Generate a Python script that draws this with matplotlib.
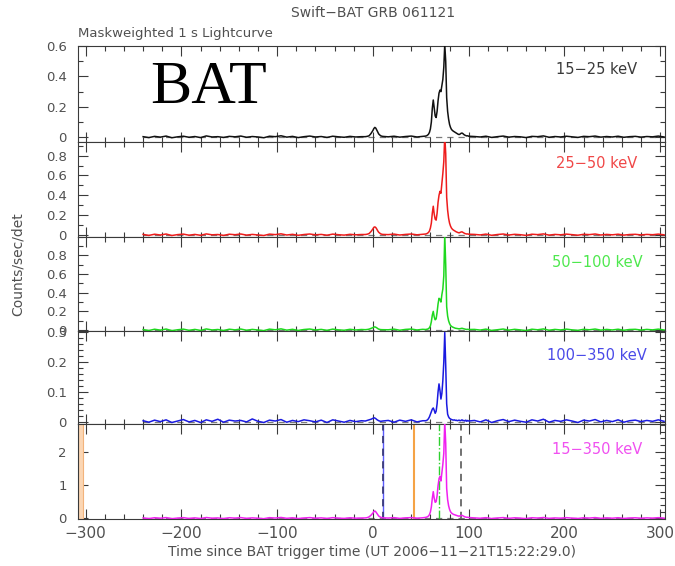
import numpy as np
import matplotlib
matplotlib.use("Agg")
import matplotlib.pyplot as plt
from matplotlib.ticker import MultipleLocator, FixedLocator

# ---- time grid, seconds since BAT trigger ----
t_pre = np.arange(-240, -11, 6)
t_precursor = np.array([-8, -6, -4, -2, 0, 1, 2, 3, 4, 5, 6, 8, 10])
t_gap = np.array([16, 22, 28, 34, 40, 46, 52])
t_burst = np.arange(55, 101)
t_tail = np.arange(106, 305, 6)
time = np.concatenate([t_pre, t_precursor, t_gap, t_burst, t_tail])

# ---- mask-weighted rates (counts/sec/det) per energy band ----
rate_15_25 = [
    0.004, -0.002, 0.006, 0.001, 0.008, -0.003, 0.003, 0.007, 0.000, 0.005,
    -0.002, 0.009, 0.002, 0.004, -0.001, 0.006, 0.003, 0.008, 0.000, 0.005,
    0.002, -0.003, 0.007, 0.004, 0.010, 0.001, 0.006, -0.002, 0.004, 0.008,
    0.002, 0.005, -0.001, 0.007, 0.003, 0.000, 0.006, 0.002, 0.004,
    0.004, 0.006, 0.010, 0.025, 0.045, 0.058, 0.065, 0.060, 0.048, 0.035, 0.022, 0.010, 0.006,
    0.003, 0.007, 0.001, 0.005, 0.008, 0.002, 0.006,
    0.008, 0.010, 0.014, 0.020, 0.032, 0.055, 0.10, 0.19, 0.245, 0.19,
    0.14, 0.13, 0.17, 0.24, 0.29, 0.31, 0.30, 0.34, 0.38, 0.46,
    0.61, 0.50, 0.26, 0.17, 0.12, 0.085, 0.065, 0.052, 0.045, 0.040,
    0.036, 0.032, 0.028, 0.024, 0.020, 0.018, 0.021, 0.026, 0.028, 0.024,
    0.018, 0.014, 0.011, 0.009, 0.010, 0.007,
    0.005, 0.002, 0.007, -0.001, 0.004, 0.008, 0.001, 0.005, 0.003, -0.002,
    0.006, 0.004, 0.009, 0.000, 0.005, 0.002, 0.007, 0.003, -0.001, 0.006,
    0.004, 0.008, 0.001, 0.005, 0.002, 0.007, 0.000, 0.004, 0.006, 0.001,
    0.005, 0.003, 0.008, 0.002,
]
rate_25_50 = [
    0.006, -0.004, 0.008, 0.000, 0.010, -0.005, 0.004, 0.009, -0.002, 0.006,
    -0.003, 0.011, 0.002, 0.005, -0.004, 0.008, 0.003, 0.010, -0.001, 0.006,
    0.001, -0.005, 0.009, 0.004, 0.012, 0.000, 0.007, -0.003, 0.005, 0.010,
    0.002, 0.006, -0.002, 0.009, 0.003, -0.001, 0.007, 0.002, 0.005,
    0.005, 0.008, 0.015, 0.035, 0.062, 0.078, 0.082, 0.075, 0.060, 0.042, 0.028, 0.012, 0.006,
    0.004, 0.009, 0.000, 0.006, 0.010, 0.002, 0.007,
    0.010, 0.013, 0.018, 0.026, 0.040, 0.070, 0.12, 0.22, 0.29, 0.21,
    0.16, 0.15, 0.22, 0.33, 0.40, 0.44, 0.42, 0.52, 0.62, 0.74,
    1.00, 0.82, 0.38, 0.25, 0.17, 0.12, 0.090, 0.070, 0.058, 0.050,
    0.044, 0.038, 0.032, 0.028, 0.024, 0.022, 0.026, 0.030, 0.032, 0.026,
    0.020, 0.015, 0.012, 0.010, 0.011, 0.008,
    0.006, 0.001, 0.009, -0.003, 0.005, 0.010, 0.000, 0.007, 0.003, -0.004,
    0.008, 0.004, 0.011, -0.001, 0.006, 0.002, 0.009, 0.003, -0.002, 0.007,
    0.004, 0.010, 0.000, 0.006, 0.002, 0.008, -0.001, 0.005, 0.007, 0.001,
    0.006, 0.003, 0.009, 0.002,
]
rate_50_100 = [
    0.005, -0.005, 0.009, -0.001, 0.011, -0.006, 0.003, 0.010, -0.003, 0.007,
    -0.004, 0.012, 0.001, 0.006, -0.005, 0.009, 0.002, 0.011, -0.002, 0.007,
    0.000, -0.006, 0.010, 0.003, 0.013, -0.001, 0.008, -0.004, 0.006, 0.011,
    0.001, 0.007, -0.003, 0.010, 0.002, -0.002, 0.008, 0.001, 0.006,
    0.004, 0.006, 0.010, 0.018, 0.026, 0.032, 0.034, 0.030, 0.024, 0.016, 0.010, 0.005, 0.004,
    0.003, 0.010, -0.002, 0.007, 0.011, 0.001, 0.008,
    0.006, 0.008, 0.010, 0.015, 0.025, 0.045, 0.09, 0.16, 0.20, 0.14,
    0.11, 0.12, 0.19, 0.28, 0.34, 0.33, 0.30, 0.38, 0.44, 0.58,
    1.02, 0.70, 0.25, 0.15, 0.10, 0.07, 0.050, 0.040, 0.033, 0.028,
    0.024, 0.020, 0.018, 0.016, 0.014, 0.013, 0.015, 0.018, 0.019, 0.016,
    0.012, 0.010, 0.008, 0.007, 0.008, 0.006,
    0.007, 0.000, 0.010, -0.004, 0.004, 0.011, -0.001, 0.008, 0.002, -0.005,
    0.009, 0.003, 0.012, -0.002, 0.007, 0.001, 0.010, 0.002, -0.003, 0.008,
    0.003, 0.011, -0.001, 0.007, 0.001, 0.009, -0.002, 0.006, 0.008, 0.000,
    0.007, 0.002, 0.010, 0.001,
]
rate_100_350 = [
    0.003, -0.002, 0.005, 0.000, 0.006, -0.003, 0.002, 0.007, -0.001, 0.004,
    -0.003, 0.006, 0.001, 0.008, -0.002, 0.005, 0.002, 0.004, -0.001, 0.009,
    0.001, -0.003, 0.005, 0.002, 0.007, -0.002, 0.004, 0.000, 0.006, 0.003,
    -0.001, 0.005, -0.003, 0.006, 0.002, -0.002, 0.004, 0.000, 0.003,
    0.002, 0.004, 0.006, 0.008, 0.011, 0.013, 0.012, 0.010, 0.007, 0.005, 0.003, 0.001, 0.002,
    0.004, -0.002, 0.005, 0.001, 0.006, -0.001, 0.003,
    0.003, 0.004, 0.006, 0.010, 0.016, 0.025, 0.035, 0.042, 0.046, 0.038,
    0.028, 0.035, 0.060, 0.100, 0.127, 0.105, 0.076, 0.095, 0.138, 0.200,
    0.300, 0.190, 0.060, 0.025, 0.016, 0.011, 0.009, 0.007, 0.006, 0.005,
    0.006, 0.004, 0.005, 0.003, 0.004, 0.005, 0.003, 0.004, 0.006, 0.003,
    0.004, 0.002, 0.005, 0.001, 0.004, 0.002,
    0.004, -0.001, 0.006, -0.003, 0.003, 0.007, 0.000, 0.005, 0.001, -0.002,
    0.006, 0.002, 0.008, -0.002, 0.004, 0.001, 0.006, 0.002, -0.003, 0.005,
    0.002, 0.007, -0.001, 0.004, 0.000, 0.006, -0.002, 0.003, 0.005, 0.000,
    0.004, 0.001, 0.006, 0.001,
]
rate_15_350 = [
    0.012, -0.008, 0.018, 0.002, 0.022, -0.010, 0.008, 0.020, -0.004, 0.014,
    -0.006, 0.024, 0.004, 0.012, -0.008, 0.018, 0.006, 0.022, -0.002, 0.014,
    0.002, -0.010, 0.020, 0.008, 0.026, 0.000, 0.016, -0.006, 0.010, 0.022,
    0.004, 0.014, -0.004, 0.020, 0.006, -0.002, 0.016, 0.004, 0.010,
    0.012, 0.020, 0.045, 0.095, 0.160, 0.205, 0.220, 0.195, 0.155, 0.110, 0.070, 0.032, 0.015,
    0.008, 0.020, -0.002, 0.014, 0.022, 0.004, 0.016,
    0.028, 0.036, 0.048, 0.070, 0.11, 0.19, 0.34, 0.60, 0.80, 0.60,
    0.48, 0.50, 0.68, 0.98, 1.18, 1.26, 1.12, 1.36, 1.62, 1.95,
    2.90, 2.25, 0.90, 0.56, 0.38, 0.27, 0.20, 0.16, 0.14, 0.12,
    0.11, 0.10, 0.09, 0.08, 0.07, 0.065, 0.075, 0.085, 0.09, 0.075,
    0.06, 0.045, 0.038, 0.030, 0.032, 0.024,
    0.014, 0.002, 0.020, -0.006, 0.010, 0.022, 0.000, 0.016, 0.006, -0.008,
    0.018, 0.008, 0.024, -0.002, 0.012, 0.004, 0.020, 0.006, -0.004, 0.016,
    0.008, 0.022, 0.000, 0.014, 0.004, 0.018, -0.002, 0.010, 0.016, 0.002,
    0.014, 0.006, 0.020, 0.004,
]

band_labels = ["15\u221225 keV", "25\u221250 keV", "50\u2212100 keV",
               "100\u2212350 keV", "15\u2212350 keV"]
band_rates = [rate_15_25, rate_25_50, rate_50_100, rate_100_350, rate_15_350]

# event markers drawn in the summed-band panel (s)
slew_span = (-308, -303)
t_blue_dashed = 10.8
t_orange = 42.8
t_green_dashdot = 68.9
t_gray_dashed = 91.5

# ---- styling ----
line_colors = ["#111111", "#ee1c1c", "#1ed81e", "#1a1ae0", "#f020f0"]
text_colors = ["#3a3a3a", "#f04848", "#4ee84e", "#4a4ae8", "#f050f0"]
ylims = [(-0.029, 0.60), (-0.017, 0.94), (-0.01, 1.0), (-0.008, 0.305), (-0.02, 2.83)]
major_steps = [0.2, 0.2, 0.2, 0.1, 1.0]
minor_steps = [0.1, 0.1, 0.1, 0.02, 0.2]
label_y = [0.75, 0.77, 0.73, 0.74, 0.73]

W, H = 675, 566
edges = [46, 141.7, 236.7, 331, 424, 519]
left_px, right_px = 78, 665
grey = "#505050"
spine_col = "#3a3a3a"

fig = plt.figure(figsize=(W / 100, H / 100), dpi=100)
fig.patch.set_facecolor("white")

axes = []
for i in range(5):
    top, bot = edges[i], edges[i + 1]
    ax = fig.add_axes([left_px / W, 1 - bot / H, (right_px - left_px) / W, (bot - top) / H])
    axes.append(ax)
    rates = np.asarray(band_rates[i])
    if rates.size != time.size:
        raise ValueError(f"{band_labels[i]}: {rates.size} rates for {time.size} times")

    ax.plot([time[0], time[-1]], [0, 0], color="#7a7a7a", lw=0.9,
            ls=(0, (5, 4)), zorder=1)
    ax.plot(time, rates, color=line_colors[i], lw=1.1, zorder=3)

    ax.set_xlim(-308, 305)
    ax.set_ylim(*ylims[i])
    ax.xaxis.set_major_locator(MultipleLocator(100))
    ax.xaxis.set_minor_locator(MultipleLocator(20))
    if i == 2:
        ax.yaxis.set_major_locator(FixedLocator([0, 0.2, 0.4, 0.6, 0.8]))
    else:
        ax.yaxis.set_major_locator(MultipleLocator(major_steps[i]))
    ax.yaxis.set_minor_locator(MultipleLocator(minor_steps[i]))
    ax.yaxis.set_major_formatter(plt.FuncFormatter(lambda v, p: f"{v:g}"))

    ax.tick_params(which="both", direction="in", top=True, right=True,
                   color=spine_col, width=0.8, labelcolor=grey)
    ax.tick_params(which="major", length=7)
    ax.tick_params(which="minor", length=3.5)
    ax.tick_params(axis="y", labelsize=9.5, pad=8)
    ax.tick_params(axis="x", labelsize=11, pad=5)
    for s in ax.spines.values():
        s.set_color(spine_col)
        s.set_linewidth(0.8)
    if i < 4:
        ax.tick_params(axis="x", labelbottom=False)

    ax.text(0.884, label_y[i], band_labels[i], transform=ax.transAxes,
            ha="center", va="center", fontsize=10.5, color=text_colors[i])

# markers in the 15-350 keV panel
ax5 = axes[4]
ax5.axvspan(*slew_span, facecolor="#fbd6b4", edgecolor="#f2b37c", lw=0.8, zorder=2)
ax5.axvline(t_blue_dashed, color="#5a5aff", lw=1.0, zorder=2)
ax5.axvline(t_blue_dashed - 0.8, color="#3c3c78", lw=1.3, ls=(0, (4, 3)), zorder=2)
ax5.axvline(t_orange, color="#f5a346", lw=1.5, zorder=2)
ax5.axvline(t_green_dashdot, color="#2ed02e", lw=1.0, ls="-.", zorder=2)
ax5.axvline(t_gray_dashed, color="#666666", lw=1.3, ls=(0, (4, 3)), zorder=2)

ax5.set_xlabel("Time since BAT trigger time (UT 2006\u221211\u221221T15:22:29.0)",
               fontsize=10, color=grey, labelpad=3)

fig.text(373 / W, 1 - 13 / H, "Swift\u2212BAT GRB 061121", ha="center", va="center",
         fontsize=10, color=grey)
fig.text(left_px / W, 1 - 33 / H, "Maskweighted 1 s Lightcurve", ha="left", va="center",
         fontsize=9.5, color=grey)
fig.text(18 / W, 1 - 264 / H, "Counts/sec/det", rotation=90, ha="center", va="center",
         fontsize=10, color=grey)
fig.text(150 / W, 1 - 103 / H, "BAT", ha="left", va="baseline",
         fontsize=44.5, color="black", family="Liberation Serif")

fig.savefig("out.png", dpi=100, facecolor="white")
